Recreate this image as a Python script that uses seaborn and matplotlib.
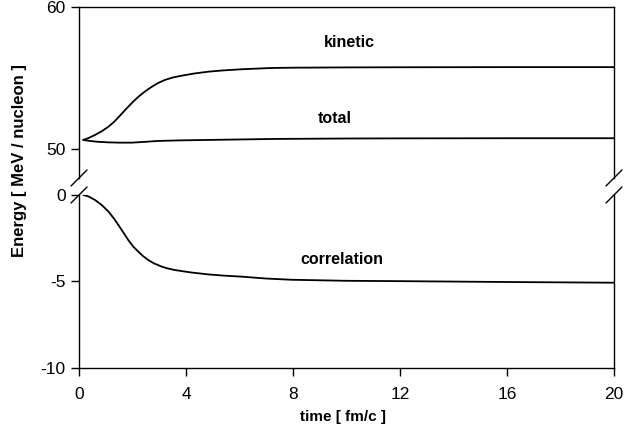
import matplotlib
matplotlib.use("Agg")
import matplotlib.pyplot as plt
import seaborn as sns
import pandas as pd

# values
t_kin = [0.16, 0.35, 0.6, 0.85, 1.1, 1.3, 1.47, 1.65, 1.84, 2.02, 2.22, 2.45, 2.72, 2.95,
         3.21, 3.5, 3.84, 4.3, 4.83, 5.4, 6.08, 7.2, 8, 10, 12, 16, 20]
kinetic = [50.67, 50.8, 51.02, 51.28, 51.6, 51.92, 52.25, 52.62, 53.0, 53.35, 53.7, 54.05, 54.4, 54.66,
           54.88, 55.05, 55.18, 55.33, 55.46, 55.55, 55.63, 55.72, 55.74, 55.76, 55.77, 55.78, 55.78]

t_tot = [0.16, 0.4, 0.7, 1.1, 1.5, 1.97, 2.5, 2.96, 3.8, 4.83, 7.33, 10, 12, 16, 20]
total = [50.67, 50.6, 50.54, 50.5, 50.48, 50.48, 50.54, 50.6, 50.64, 50.67, 50.74, 50.77, 50.78, 50.79, 50.79]

t_cor = [0.16, 0.35, 0.6, 0.85, 1.1, 1.3, 1.47, 1.65, 1.84, 2.02, 2.22, 2.4, 2.59, 2.8, 3.09,
         3.3, 3.59, 4.2, 4.83, 5.4, 6.08, 7.0, 7.95, 10, 12, 16, 20]
correlation = [0.0, -0.08, -0.29, -0.58, -0.96, -1.35, -1.73, -2.15, -2.6, -2.97, -3.28, -3.54, -3.76, -3.95, -4.14,
               -4.24, -4.34, -4.48, -4.59, -4.66, -4.72, -4.83, -4.9, -4.96, -4.98, -5.03, -5.07]

x_ticks = [0, 4, 8, 12, 16, 20]

sns.set_style("ticks")
plt.rcParams['font.family'] = ['Liberation Sans', 'DejaVu Sans']
plt.rcParams['font.size'] = 10
plt.rcParams['axes.unicode_minus'] = False
plt.rcParams['text.color'] = 'black'

fig = plt.figure(figsize=(6.44, 4.34), dpi=100)
ax_top = fig.add_axes([0.1227, 0.5899, 0.8307, 0.3940])
ax_bot = fig.add_axes([0.1227, 0.1521, 0.8307, 0.3986])

df_kin = pd.DataFrame({"t": t_kin, "E": kinetic})
df_tot = pd.DataFrame({"t": t_tot, "E": total})
df_cor = pd.DataFrame({"t": t_cor, "E": correlation})

for df in (df_kin, df_tot):
    sns.lineplot(data=df, x="t", y="E", ax=ax_top, color="black", lw=1.3)
sns.lineplot(data=df_cor, x="t", y="E", ax=ax_bot, color="black", lw=1.3)

ax_top.set_xlim(0, 20)
ax_bot.set_xlim(0, 20)
ax_top.set_ylim(48, 60)
ax_bot.set_ylim(-10, 0)
ax_top.set_yticks([50, 60])
ax_bot.set_yticks([-10, -5, 0])
ax_bot.set_xticks(x_ticks)

for ax in (ax_top, ax_bot):
    for s in ax.spines.values():
        s.set_linewidth(1.0)
        s.set_color("black")
    ax.tick_params(axis="both", direction="out", length=6, width=1, colors="black",
                   labelsize=12.5, right=False, top=False)
    ax.set_xlabel("")
    ax.set_ylabel("")
ax_bot.tick_params(axis="x", pad=8)

ax_top.spines["bottom"].set_visible(False)
ax_top.tick_params(axis="x", bottom=False, labelbottom=False)
ax_bot.spines["top"].set_visible(False)

# break marks
d = 8
for ax, yy in ((ax_top, 0), (ax_bot, 1)):
    for xx in (0, 1):
        x0, y0 = ax.transAxes.transform((xx, yy))
        ax.plot([x0 - d, x0 + d], [y0 - d, y0 + d], transform=None, color="black",
                lw=1.0, clip_on=False)

ax_top.text(10.1, 57.5, "kinetic", ha="center", va="center", fontsize=11.5, fontweight="bold")
ax_top.text(9.57, 52.2, "total", ha="center", va="center", fontsize=11.5, fontweight="bold")
ax_bot.text(9.83, -3.7, "correlation", ha="center", va="center", fontsize=11.5, fontweight="bold")

fig.text(0.031, 0.63, "Energy [ MeV / nucleon ]", rotation=90, ha="center", va="center",
         fontsize=12, fontweight="bold")
fig.text(0.533, 0.039, "time [ fm/c ]", ha="center", va="center", fontsize=11, fontweight="bold")

fig.savefig("out.png", dpi=100)
